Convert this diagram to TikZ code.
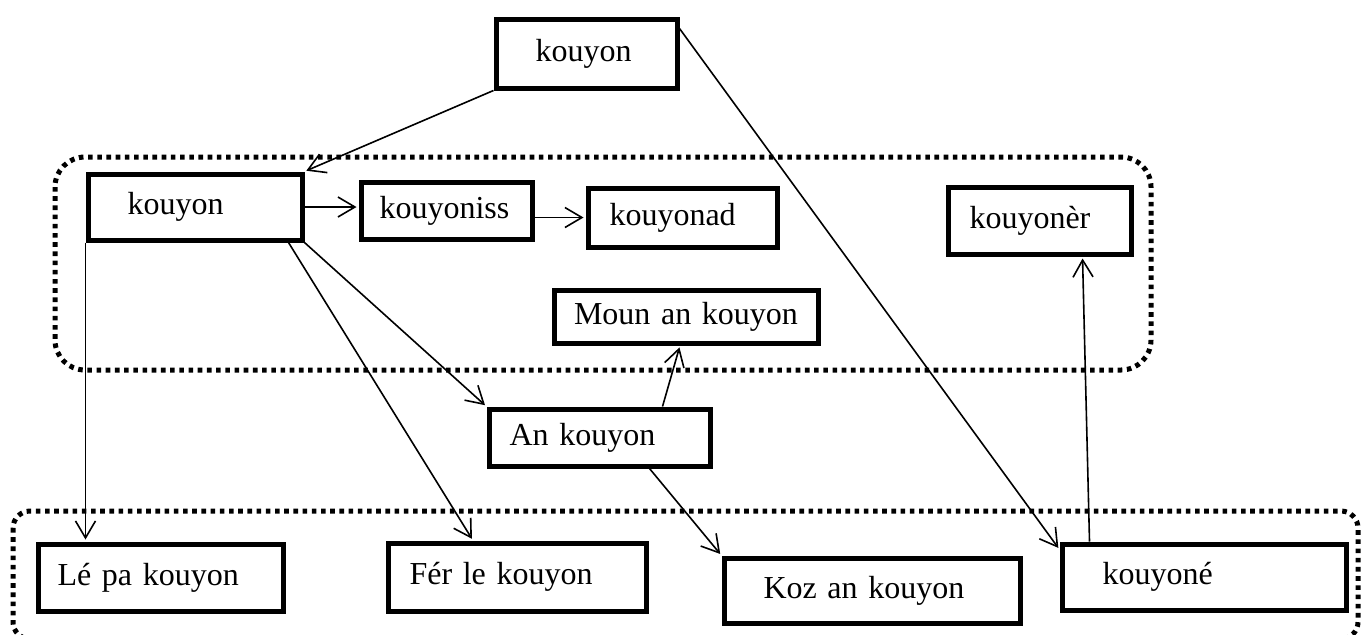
\documentclass[tikz,border=0pt]{standalone}
\usepackage{fontspec}
\setmainfont{Liberation Serif}
\usetikzlibrary{arrows.meta}
\tikzset{
    base/.style={font=\fontsize{16}{19}\selectfont, align=left},
    box/.style={base, rectangle, draw, line width=2.5pt, inner ysep=0pt, anchor=north west},
    flow/.style={-{Straight Barb[length=8.5pt,width=10pt]}, line width=0.8pt, shorten >=1pt},
    group/.style={line width=2.5pt, dash pattern=on 2.3pt off 2.3pt, rounded corners=#1},
    group/.default=15pt
}

\begin{document}
\begin{tikzpicture}[x=0.5pt, y=-0.5pt]
  \clip (0,0) rectangle (1369,634);

  % dotted groups
  \draw[group] (55,157) rectangle (1151,370);
  \draw[group=8.5pt] (13,511) rectangle (1358,639);

  % words
  \node[box, minimum height=34.5pt, text width=51pt, inner xsep=19.75pt] (top) at (493.5,16.5) {kouyon};
  \node[box, minimum height=33pt, text width=67.5pt, inner xsep=19.75pt] (mid) at (85.5,171.5) {kouyon};
  \node[box, minimum height=28.5pt, text width=67pt, inner xsep=9.25pt] (iss) at (358.5,179.5) {kouyoniss};
  \node[box, minimum height=29.5pt, text width=73pt, inner xsep=10.75pt] (nad) at (585.5,185.5) {kouyonad};
  \node[box, minimum height=33.5pt, text width=70pt, inner xsep=10.75pt] (ner) at (945.5,184.5) {kouyonèr};
  \node[box, minimum height=26.5pt, text width=112pt, inner xsep=10pt] (moun) at (551.5,287.5) {Moun an kouyon};
  \node[box, minimum height=28.5pt, text width=90pt, inner xsep=10.25pt] (an) at (486.5,406.5) {An kouyon};
  \node[box, minimum height=33.5pt, text width=103pt, inner xsep=9.75pt] (lepa) at (35.5,541.5) {Lé pa kouyon};
  \node[box, minimum height=34pt, text width=107.5pt, inner xsep=10.75pt] (fer) at (385.5,540.5) {Fér le kouyon};
  \node[box, minimum height=32.5pt, text width=108.5pt, inner xsep=19.75pt] (koz) at (721.5,555.5) {Koz an kouyon};
  \node[box, minimum height=33pt, text width=101.5pt, inner xsep=20.25pt] (kone) at (1059.5,541.5) {kouyoné};

  % links
  \draw[flow] (top.south west) -- (mid.north east);
  \draw[flow] ([yshift=-6pt]top.north east) -- ([yshift=-4pt]kone.north west);
  \draw[flow] (mid.east) -- (mid.east -| iss.west);
  \draw[flow] (iss.east |- nad.west) -- (nad.west);
  \draw[flow] (mid.south west) -- (mid.south west |- lepa.north);
  \draw[flow] ([xshift=-8pt]mid.south east) -- ([xshift=-22pt]fer.north);
  \draw[flow] (mid.south east) -- (an.north west);
  \draw[flow] ([xshift=31.5pt]an.north) -- ([xshift=-3pt]moun.south);
  \draw[flow] ([xshift=25pt]an.south) -- (koz.north west);
  \draw[flow] ([xshift=15pt]kone.north west) -- ([xshift=21.5pt]ner.south);
\end{tikzpicture}
\end{document}
